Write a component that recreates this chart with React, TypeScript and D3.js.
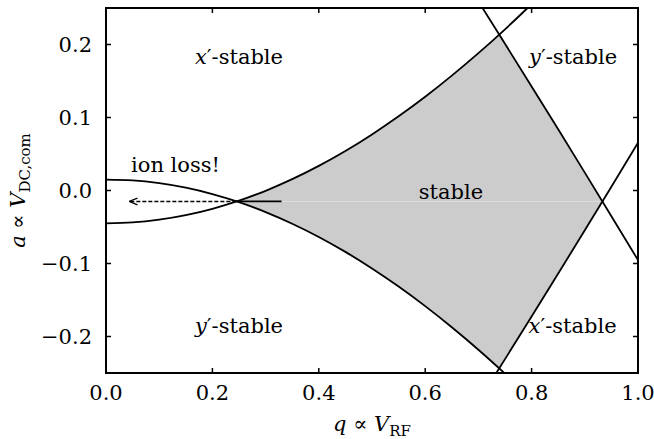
import React from 'react';
import * as d3 from 'd3';

// stability boundaries (q, a)
const xLowerQ = [0, 0.05, 0.1, 0.15, 0.2, 0.25, 0.3, 0.35, 0.4, 0.45, 0.5, 0.55, 0.6, 0.65, 0.7, 0.75];
const xLowerA = [0.015, 0.0138, 0.01, 0.0038, -0.0049, -0.016, -0.0296, -0.0455, -0.0636, -0.0841, -0.1068, -0.1316, -0.1584, -0.1873, -0.2181, -0.2508];

const yLowerQ = [0, 0.05, 0.1, 0.15, 0.2, 0.25, 0.3, 0.35, 0.4, 0.45, 0.5, 0.55, 0.6, 0.65, 0.7, 0.75, 0.79, 0.795];
const yLowerA = [-0.045, -0.0438, -0.04, -0.0338, -0.0251, -0.014, -0.0004, 0.0155, 0.0337, 0.0541, 0.0768, 0.1016, 0.1284, 0.1573, 0.1881, 0.2208, 0.2483, 0.2518];

const xUpperQ = [0.7, 0.75, 0.8, 0.85, 0.9, 0.95, 1.0];
const xUpperA = [0.259, 0.201, 0.1426, 0.0838, 0.0245, -0.0352, -0.0953];

const yUpperQ = [0.73, 0.75, 0.8, 0.85, 0.9, 0.95, 1.0];
const yUpperA = [-0.2542, -0.231, -0.1726, -0.1138, -0.0545, 0.0052, 0.0653];

// operating point line and the "ion loss" arrow
const apex = { q: 0.245, a: -0.015 };
const rightVertexQ = 0.932;
const solidEndQ = 0.33;
const arrowEndQ = 0.045;

const xTicks = [0, 0.2, 0.4, 0.6, 0.8, 1.0];
const yTicks = [-0.2, -0.1, 0, 0.1, 0.2];

const labels = [
  { italic: 'x', rest: '\u2032-stable', q: 0.25, a: 0.1733 },
  { italic: 'y', rest: '\u2032-stable', q: 0.878, a: 0.1733 },
  { italic: '', rest: 'ion loss!', q: 0.1306, a: 0.0253 },
  { italic: '', rest: 'stable', q: 0.6485, a: -0.0116 },
  { italic: 'y', rest: '\u2032-stable', q: 0.25, a: -0.1952 },
  { italic: 'x', rest: '\u2032-stable', q: 0.877, a: -0.1952 },
];

const W = 654;
const H = 439;
const margin = { top: 8, right: 16, bottom: 66, left: 106 };
const font = "'DejaVu Serif', 'Liberation Serif', serif";

function zip(qs: number[], as: number[]): [number, number][] {
  return qs.map((q, i) => [q, as[i]]);
}

export default function App() {
  const innerW = W - margin.left - margin.right;
  const innerH = H - margin.top - margin.bottom;

  const x = d3.scaleLinear().domain([0, 1]).range([0, innerW]);
  const y = d3.scaleLinear().domain([-0.25, 0.25]).range([innerH, 0]);

  const line = d3.line<[number, number]>()
    .x(d => x(d[0]))
    .y(d => y(d[1]))
    .curve(d3.curveMonotoneX);

  const xLower = zip(xLowerQ, xLowerA);
  const yLower = zip(yLowerQ, yLowerA);
  const xUpper = zip(xUpperQ, xUpperA);
  const yUpper = zip(yUpperQ, yUpperA);

  const [q0, q1] = x.domain();
  const [a0, a1] = y.domain();
  const pad = 0.1;

  // x-stable: between lower x curve and upper x curve
  const xStable =
    line(xLower)! +
    `L${x(q1 + pad)},${y(a0 - pad)}L${x(q1 + pad)},${y(xUpperA[xUpperA.length - 1])}` +
    line(xUpper.slice().reverse())!.replace(/^M/, 'L') +
    `L${x(q0 - pad)},${y(a1 + pad)}Z`;

  // y-stable: below the y lower curve, above the y upper curve
  const yStable =
    line(yLower)! +
    `L${x(q1 + pad)},${y(a1 + pad)}L${x(q1 + pad)},${y(yUpperA[yUpperA.length - 1])}` +
    line(yUpper.slice().reverse())!.replace(/^M/, 'L') +
    `L${x(q0 - pad)},${y(a0 - pad)}Z`;

  const tick = 5;

  return (
    <svg width={W} height={H} style={{ position: 'absolute', left: 0, top: 0, background: '#fff', fontFamily: font }}>
      <defs>
        <clipPath id="plot">
          <rect x={0} y={0} width={innerW} height={innerH} />
        </clipPath>
        <clipPath id="ystable">
          <path d={yStable} />
        </clipPath>
        <marker id="arrow" viewBox="0 0 10 10" refX={9} refY={5} markerWidth={6} markerHeight={6} orient="auto">
          <path d="M0,1 L10,5 L0,9" fill="none" stroke="#000" strokeWidth={1.5} />
        </marker>
      </defs>
      <g transform={`translate(${margin.left},${margin.top})`}>
        <g clipPath="url(#plot)">
          <path d={xStable} fill="#cccccc" stroke="none" clipPath="url(#ystable)" />
          <line x1={x(apex.q)} x2={x(rightVertexQ)} y1={y(apex.a)} y2={y(apex.a)} stroke="#dedede" strokeWidth={1} />
          {[xLower, yLower, xUpper, yUpper].map((d, i) => (
            <path key={i} d={line(d)!} fill="none" stroke="#000" strokeWidth={1.8} />
          ))}
          <line x1={x(apex.q)} x2={x(solidEndQ)} y1={y(apex.a)} y2={y(apex.a)} stroke="#000" strokeWidth={1.8} />
          <line x1={x(apex.q)} x2={x(arrowEndQ)} y1={y(apex.a)} y2={y(apex.a)} stroke="#000" strokeWidth={1.4}
            strokeDasharray="4 2" markerEnd="url(#arrow)" />
        </g>

        {labels.map((l, i) => (
          <text key={i} x={x(l.q)} y={y(l.a)} textAnchor="middle" fontSize={21} fill="#000">
            {l.italic && <tspan fontStyle="italic">{l.italic}</tspan>}
            {l.rest}
          </text>
        ))}

        {/* ticks on all sides, pointing inward */}
        {xTicks.map(t => (
          <g key={'x' + t}>
            <line x1={x(t)} x2={x(t)} y1={innerH} y2={innerH - tick} stroke="#000" strokeWidth={1.5} />
            <line x1={x(t)} x2={x(t)} y1={0} y2={tick} stroke="#000" strokeWidth={1.5} />
            <text x={x(t)} y={innerH + 27} textAnchor="middle" fontSize={21}>{d3.format('.1f')(t)}</text>
          </g>
        ))}
        {yTicks.map(t => (
          <g key={'y' + t}>
            <line x1={0} x2={tick} y1={y(t)} y2={y(t)} stroke="#000" strokeWidth={1.5} />
            <line x1={innerW} x2={innerW - tick} y1={y(t)} y2={y(t)} stroke="#000" strokeWidth={1.5} />
            <text x={-14} y={y(t)} dy="0.35em" textAnchor="end" fontSize={21}>
              {t < 0 ? '\u2212' + d3.format('.1f')(-t) : d3.format('.1f')(t)}
            </text>
          </g>
        ))}

        <rect x={0} y={0} width={innerW} height={innerH} fill="none" stroke="#000" strokeWidth={2} />

        <text x={innerW / 2} y={innerH + 58} textAnchor="middle" fontSize={21}>
          <tspan fontStyle="italic">q</tspan>
          <tspan> {'\u221D'} </tspan>
          <tspan fontStyle="italic">V</tspan>
          <tspan fontSize={15} dy={5}>RF</tspan>
        </text>
      </g>
      <text transform={`translate(25,${margin.top + innerH / 2}) rotate(-90)`} textAnchor="middle" fontSize={21}>
        <tspan fontStyle="italic">a</tspan>
        <tspan> {'\u221D'} </tspan>
        <tspan fontStyle="italic">V</tspan>
        <tspan fontSize={15} dy={5}>DC,com</tspan>
      </text>
    </svg>
  );
}
